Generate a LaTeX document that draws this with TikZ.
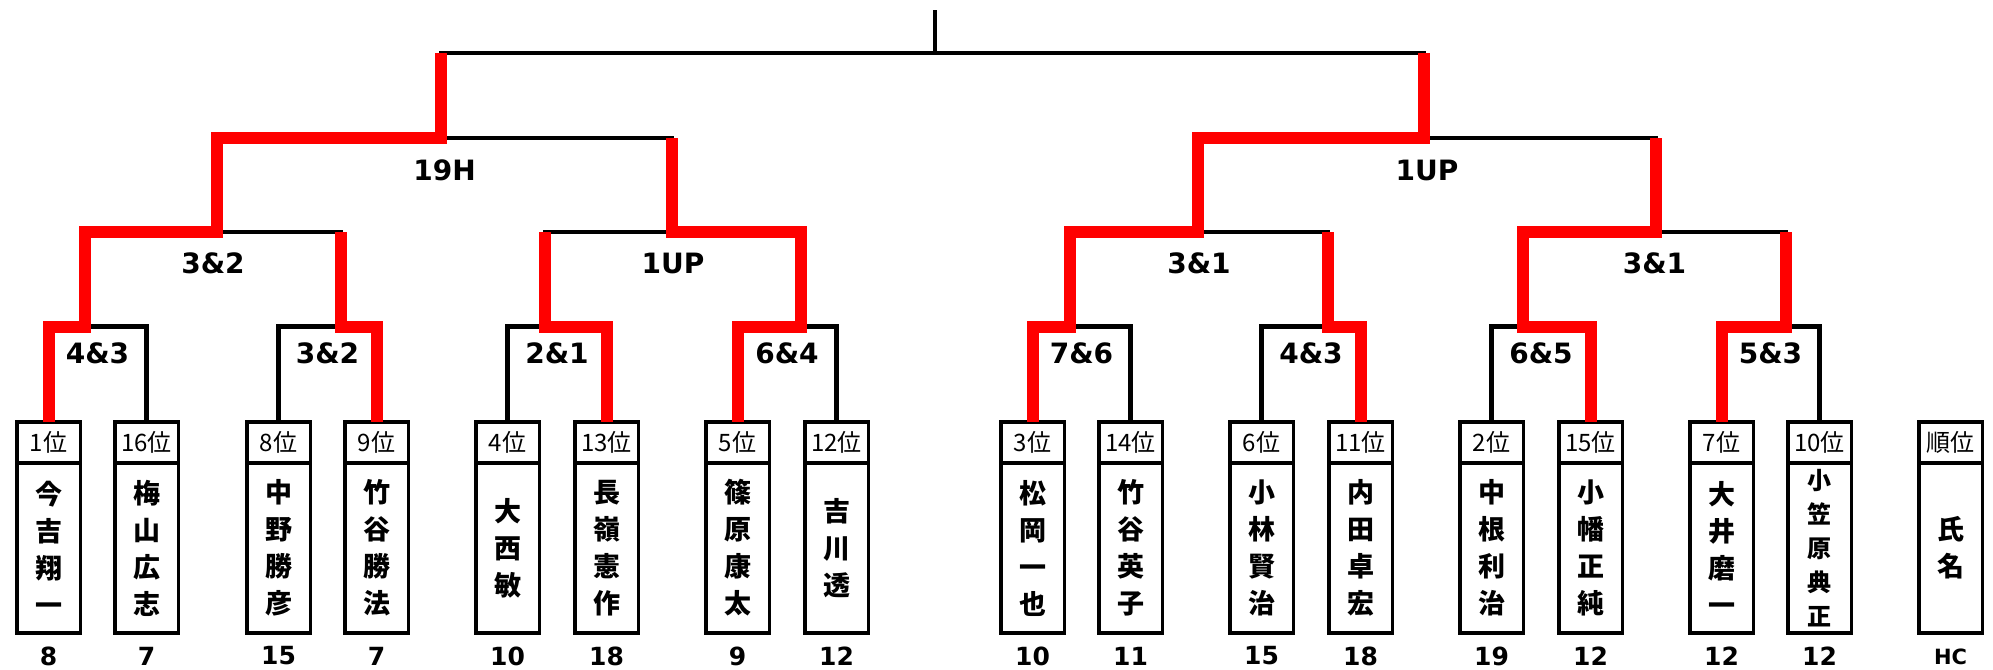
\documentclass[tikz,border=0pt]{standalone}
\usepackage{fontspec}
\usepackage{tikz}
\setmainfont{DejaVu Sans}
\newfontfamily\jpfont{Noto Sans CJK JP}

\begin{document}
\begin{tikzpicture}[x=1pt,y=-1pt,
    rank/.style={rectangle,draw,line width=3.5pt,inner sep=0pt,outer sep=0pt,minimum width=63.5pt,minimum height=41.25pt,font=\jpfont\fontsize{24}{24}\selectfont},
    namebox/.style={rectangle,draw,line width=3.5pt,inner sep=0pt,outer sep=0pt,minimum width=63.5pt,minimum height=170.25pt,align=center,font=\jpfont\bfseries\fontsize{27}{37}\selectfont},
    score/.style={font=\bfseries\fontsize{25}{25}\selectfont},
    result/.style={font=\bfseries\fontsize{28}{28}\selectfont},
    bar/.style={line width=4.3pt},
    win/.style={red,line width=12pt}]
    \useasboundingbox (0,0) rectangle (1993,669);

    \node at (48.5,442.4) [rank] (r1) {1位};
    \node at (48.5,548.1) [namebox] (n1) {今\\吉\\翔\\一};
    \node at (48.5,656) [score] (s1) {8};
    \node at (146.5,442.4) [rank] (r2) {16位};
    \node at (146.5,548.1) [namebox] (n2) {梅\\山\\広\\志};
    \node at (146.5,656) [score] (s2) {7};
    \node at (278.5,442.4) [rank] (r3) {8位};
    \node at (278.5,548.1) [namebox] (n3) {中\\野\\勝\\彦};
    \node at (278.5,656) [score] (s3) {15};
    \node at (376.5,442.4) [rank] (r4) {9位};
    \node at (376.5,548.1) [namebox] (n4) {竹\\谷\\勝\\法};
    \node at (376.5,656) [score] (s4) {7};
    \node at (507.5,442.4) [rank] (r5) {4位};
    \node at (507.5,548.1) [namebox] (n5) {大\\西\\敏};
    \node at (507.5,656) [score] (s5) {10};
    \node at (606.5,442.4) [rank] (r6) {13位};
    \node at (606.5,548.1) [namebox] (n6) {長\\嶺\\憲\\作};
    \node at (606.5,656) [score] (s6) {18};
    \node at (737.5,442.4) [rank] (r7) {5位};
    \node at (737.5,548.1) [namebox] (n7) {篠\\原\\康\\太};
    \node at (737.5,656) [score] (s7) {9};
    \node at (836.5,442.4) [rank] (r8) {12位};
    \node at (836.5,548.1) [namebox] (n8) {吉\\川\\透};
    \node at (836.5,656) [score] (s8) {12};
    \node at (1032.5,442.4) [rank] (r9) {3位};
    \node at (1032.5,548.1) [namebox] (n9) {松\\岡\\一\\也};
    \node at (1032.5,656) [score] (s9) {10};
    \node at (1130.5,442.4) [rank] (r10) {14位};
    \node at (1130.5,548.1) [namebox] (n10) {竹\\谷\\英\\子};
    \node at (1130.5,656) [score] (s10) {11};
    \node at (1261.5,442.4) [rank] (r11) {6位};
    \node at (1261.5,548.1) [namebox] (n11) {小\\林\\賢\\治};
    \node at (1261.5,656) [score] (s11) {15};
    \node at (1360.5,442.4) [rank] (r12) {11位};
    \node at (1360.5,548.1) [namebox] (n12) {内\\田\\卓\\宏};
    \node at (1360.5,656) [score] (s12) {18};
    \node at (1491.5,442.4) [rank] (r13) {2位};
    \node at (1491.5,548.1) [namebox] (n13) {中\\根\\利\\治};
    \node at (1491.5,656) [score] (s13) {19};
    \node at (1590.5,442.4) [rank] (r14) {15位};
    \node at (1590.5,548.1) [namebox] (n14) {小\\幡\\正\\純};
    \node at (1590.5,656) [score] (s14) {12};
    \node at (1721.5,442.4) [rank] (r15) {7位};
    \node at (1721.5,548.1) [namebox] (n15) {大\\井\\磨\\一};
    \node at (1721.5,656) [score] (s15) {12};
    \node at (1819.5,442.4) [rank] (r16) {10位};
    \node at (1819.5,548.1) [namebox,font=\jpfont\bfseries\fontsize{24}{34}\selectfont] (n16) {小\\笠\\原\\典\\正};
    \node at (1819.5,656) [score] (s16) {12};
    \node at (1950.5,442.4) [rank] (r17) {順位};
    \node at (1950.5,548.1) [namebox] (n17) {氏\\名};
    \node at (1950.5,657) [score,font=\bfseries\fontsize{21}{21}\selectfont] (s17) {HC};

    \coordinate (m1) at (85,326.5);
    \coordinate (m2) at (341,326.5);
    \coordinate (m3) at (545,326.5);
    \coordinate (m4) at (801,326.5);
    \coordinate (m5) at (1070,326.5);
    \coordinate (m6) at (1328,326.5);
    \coordinate (m7) at (1523,326.5);
    \coordinate (m8) at (1786,326.5);
    \coordinate (ma) at (217,232);
    \coordinate (mb) at (672,232);
    \coordinate (mc) at (1198,232);
    \coordinate (md) at (1656,232);
    \coordinate (sl) at (441,138);
    \coordinate (sr) at (1424,138);
    \coordinate (fin) at (935,53);
    \coordinate (top) at (935,10);

    \draw[bar] (r1.north) |- (m1) -| (r2.north);
    \draw[bar] (r3.north) |- (m2) -| (r4.north);
    \draw[bar] (r5.north) |- (m3) -| (r6.north);
    \draw[bar] (r7.north) |- (m4) -| (r8.north);
    \draw[bar] (r9.north) |- (m5) -| (r10.north);
    \draw[bar] (r11.north) |- (m6) -| (r12.north);
    \draw[bar] (r13.north) |- (m7) -| (r14.north);
    \draw[bar] (r15.north) |- (m8) -| (r16.north);
    \draw[bar] (m1) |- (ma) -| (m2);
    \draw[bar] (m3) |- (mb) -| (m4);
    \draw[bar] (m5) |- (mc) -| (m6);
    \draw[bar] (m7) |- (md) -| (m8);
    \draw[bar] (ma) |- (sl) -| (mb);
    \draw[bar] (mc) |- (sr) -| (md);
    \draw[bar] (sl) |- (fin) -| (sr);
    \draw[bar] (fin) -- (top);

    \draw[win] (r1.north) |- (m1) |- (ma) |- (sl) -- (sl |- fin);
    \draw[win] (r4.north) |- (m2) -- (m2 |- ma);
    \draw[win] (r6.north) |- (m3) -- (m3 |- mb);
    \draw[win] (r7.north) |- (m4) |- (mb) -- (mb |- sl);
    \draw[win] (r9.north) |- (m5) |- (mc) |- (sr) -- (sr |- fin);
    \draw[win] (r12.north) |- (m6) -- (m6 |- mc);
    \draw[win] (r14.north) |- (m7) |- (md) -- (md |- sr);
    \draw[win] (r15.north) |- (m8) -- (m8 |- md);

    \node at (97.5,353) [result] (g1) {4\&3};
    \node at (327.5,353) [result] (g2) {3\&2};
    \node at (557,353) [result] (g3) {2\&1};
    \node at (787,353) [result] (g4) {6\&4};
    \node at (1081.5,353) [result] (g5) {7\&6};
    \node at (1311,353) [result] (g6) {4\&3};
    \node at (1541,353) [result] (g7) {6\&5};
    \node at (1770.5,353) [result] (g8) {5\&3};
    \node at (213,263) [result] (ga) {3\&2};
    \node at (673,263) [result] (gb) {1UP};
    \node at (1199,263) [result] (gc) {3\&1};
    \node at (1654.5,263) [result] (gd) {3\&1};
    \node at (444.5,170) [result] (gl) {19H};
    \node at (1427,170) [result] (gr) {1UP};
\end{tikzpicture}
\end{document}
